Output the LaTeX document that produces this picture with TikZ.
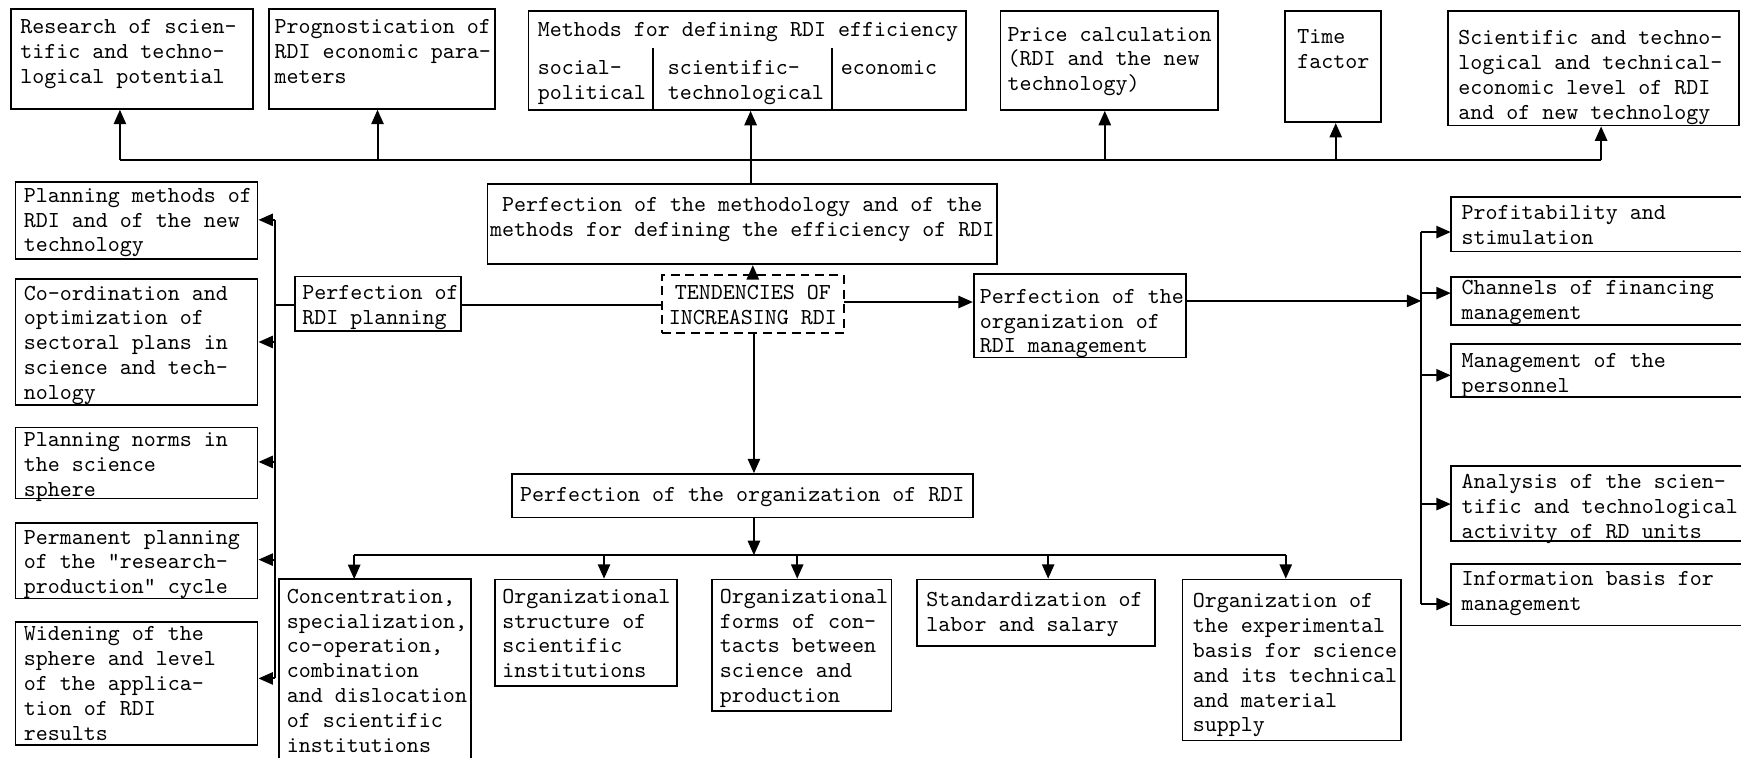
\documentclass[tikz,border=0pt]{standalone}
\usetikzlibrary{arrows.meta,fit,calc}
\newcommand\tyfont{\fontsize{10.3}{11.2}\selectfont\ttfamily}
\begin{document}
\begin{tikzpicture}[x=0.5pt,y=-0.5pt,
  box/.style={draw, line width=0.8pt, inner sep=0pt},
  hid/.style={inner sep=0pt},
  dbox/.style={draw, line width=0.8pt, inner sep=0pt, dash pattern=on 4pt off 2.5pt},
  txt/.style={anchor=north west, inner sep=0pt, align=left, font=\tyfont, yshift=-1.5pt},
  ctxt/.style={inner sep=0pt, align=center, font=\tyfont},
  ln/.style={line width=0.9pt},
  arr/.style={line width=0.9pt, -{Triangle[length=6.5pt,width=5.5pt]}}]
\useasboundingbox (0,0) rectangle (1568,682);

% ---------- top row ----------
\node[box, fit={(10,8) (228,98)}] (B1) {};
\node[txt] (B1t) at (18,14) {Research of scien-\\tific and techno-\\logical potential};
\node[box, fit={(242,8) (446,98)}] (B2) {};
\node[txt] (B2t) at (247,14) {Prognostication of\\RDI economic para-\\meters};
\node[box, fit={(476,10) (870,99)}] (B3) {};
\node[txt] (B3t) at (484,17) {Methods for defining RDI efficiency};
\node[txt] (B3a) at (484,51) {social-\\political};
\node[txt] (B3b) at (601,51) {scientific-\\technological};
\node[txt] (B3c) at (757,51) {economic};
\coordinate (d1) at (588,43);
\coordinate (d2) at (749,43);
\draw[ln] (d1) -- (d1 |- B3.south);
\draw[ln] (d2) -- (d2 |- B3.south);
\node[box, fit={(901,10) (1097,99)}] (B4) {};
\node[txt] (B4t) at (907,21) {Price calculation\\(RDI and the new\\technology)};
\node[box, fit={(1157,10) (1244,110)}] (B5) {};
\node[txt] (B5t) at (1168,23) {Time\\factor};
\node[box, fit={(1304,10) (1566,113)}] (B6) {};
\node[txt] (B6t) at (1313,24) {Scientific and techno-\\logical and technical-\\economic level of RDI\\and of new technology};

% top bus
\coordinate (t1) at (108,144);
\coordinate (t2) at (340,144);
\coordinate (t3) at (676,144);
\coordinate (t4) at (995,144);
\coordinate (t5) at (1203,144);
\coordinate (t6) at (1442,144);
\draw[ln] (t1) -- (t6);
\draw[arr] (t1) -- (t1 |- B1.south);
\draw[arr] (t2) -- (t2 |- B2.south);
\draw[arr] (t4) -- (t4 |- B4.south);
\draw[arr] (t5) -- (t5 |- B5.south);
\draw[arr] (t6) -- (t6 |- B6.south);

% ---------- centre ----------
\node[box, fit={(439,166) (898,238)}] (M) {};
\node[ctxt] (Mt) at (668.5,198) {Perfection of the methodology and of the\\methods for defining the efficiency of RDI};
\draw[arr] (M.north -| t3) -- (t3 |- B3.south);

\node[dbox, fit={(596,248) (760,300)}] (T) {};
\node[ctxt] (Tt) at (678,275) {TENDENCIES OF\\INCREASING RDI};
\draw[arr] (T.north -| 678,0) -- (M.south -| 678,0);

\node[box, fit={(266,249) (415,298)}] (P) {};
\node[txt] (Pt) at (272,254) {Perfection of\\RDI planning};
\coordinate (pl) at (415,275);
\draw[ln] (pl) -- (pl -| T.west);

\node[box, fit={(877,247) (1068,322)}] (G) {};
\node[txt] (Gt) at (882,257) {Perfection of the\\organization of\\RDI management};
\coordinate (tr) at (760,272);
\draw[arr] (tr) -- (tr -| G.west);

\node[box, fit={(461,427) (876,466)}] (O) {};
\node[ctxt] (Ot) at (668.5,448) {Perfection of the organization of RDI};
\coordinate (td) at (679,300);
\draw[arr] (td) -- (td |- O.north);

% ---------- left ----------
\node[box, fit={(14,164) (232,233)}] (L1) {};
\node[txt] (L1t) at (21,166) {Planning methods of\\RDI and of the new\\technology};
\node[box, fit={(14,251) (232,365)}] (L2) {};
\node[txt] (L2t) at (21,254) {Co-ordination and\\optimization of\\sectoral plans in\\science and tech-\\nology};
\node[box, fit={(14,385) (232,449)}] (L3) {};
\node[txt] (L3t) at (21,386) {Planning norms in\\the science\\sphere};
\node[box, fit={(14,471) (232,539)}] (L4) {};
\node[txt] (L4t) at (21,474) {Permanent planning\\of the "research-\\production" cycle};
\node[box, fit={(14,560) (232,671)}] (L5) {};
\node[txt] (L5t) at (21,561) {Widening of the\\sphere and level\\of the applica-\\tion of RDI\\results};

\coordinate (lb1) at (248,198);
\coordinate (lb2) at (248,308);
\coordinate (lb3) at (248,416);
\coordinate (lb4) at (248,504);
\coordinate (lb5) at (248,611);
\coordinate (lbp) at (248,275);
\draw[ln] (lb1) -- (lb5);
\draw[ln] (P.west |- lbp) -- (lbp);
\draw[arr] (lb1) -- (lb1 -| L1.east);
\draw[arr] (lb2) -- (lb2 -| L2.east);
\draw[arr] (lb3) -- (lb3 -| L3.east);
\draw[arr] (lb4) -- (lb4 -| L4.east);
\draw[arr] (lb5) -- (lb5 -| L5.east);

% ---------- right ----------
\node[hid, fit={(1307,178) (1568,226)}] (R1) {};
\node[hid, fit={(1307,250) (1568,292)}] (R2) {};
\node[hid, fit={(1307,310) (1568,357)}] (R3) {};
\node[hid, fit={(1307,420) (1568,487)}] (R4) {};
\node[hid, fit={(1307,508) (1568,563)}] (R5) {};
\foreach \r in {R1,R2,R3,R4,R5}
  \draw[line width=0.8pt] (\r.north east) -- (\r.north west) -- (\r.south west) -- (\r.south east);
\node[txt] (R1t) at (1316,182) {Profitability and\\stimulation};
\node[txt] (R2t) at (1316,249) {Channels of financing\\management};
\node[txt] (R3t) at (1316,315) {Management of the\\personnel};
\node[txt] (R4t) at (1316,424) {Analysis of the scien-\\tific and technological\\activity of RD units};
\node[txt] (R5t) at (1316,511) {Information basis for\\management};

\coordinate (rb1) at (1280,209);
\coordinate (rb2) at (1280,264);
\coordinate (rb3) at (1280,338);
\coordinate (rb4) at (1280,454);
\coordinate (rb5) at (1280,544);
\coordinate (rbg) at (1280,271);
\draw[ln] (rb1) -- (rb5);
\draw[arr] (G.east |- rbg) -- (rbg);
\draw[arr] (rb1) -- (rb1 -| R1.west);
\draw[arr] (rb2) -- (rb2 -| R2.west);
\draw[arr] (rb3) -- (rb3 -| R3.west);
\draw[arr] (rb4) -- (rb4 -| R4.west);
\draw[arr] (rb5) -- (rb5 -| R5.west);

% ---------- bottom ----------
\node[hid, fit={(252,522) (424,684)}] (C1) {};
\draw[line width=0.8pt] (C1.south west) -- (C1.north west) -- (C1.north east) -- (C1.south east);
\node[txt] (C1t) at (258,527) {Concentration,\\specialization,\\co-operation,\\combination\\and dislocation\\of scientific\\institutions};
\node[box, fit={(446,522) (610,618)}] (C2) {};
\node[txt] (C2t) at (452,527) {Organizational\\structure of\\scientific\\institutions};
\node[box, fit={(641,522) (803,640)}] (C3) {};
\node[txt] (C3t) at (648,527) {Organizational\\forms of con-\\tacts between\\science and\\production};
\node[box, fit={(826,522) (1040,582)}] (C4) {};
\node[txt] (C4t) at (834,530) {Standardization of\\labor and salary};
\node[box, fit={(1065,522) (1262,667)}] (C5) {};
\node[txt] (C5t) at (1074,531) {Organization of\\the experimental\\basis for science\\and its technical\\and material\\supply};

\coordinate (bb0) at (679,500);
\coordinate (bb1) at (319,500);
\coordinate (bb2) at (544,500);
\coordinate (bb3) at (718,500);
\coordinate (bb4) at (944,500);
\coordinate (bb5) at (1158,500);
\draw[ln] (bb1) -- (bb5);
\draw[arr] (O.south -| bb0) -- (bb0);
\draw[arr] (bb1) -- (bb1 |- C1.north);
\draw[arr] (bb2) -- (bb2 |- C2.north);
\draw[arr] (bb3) -- (bb3 |- C3.north);
\draw[arr] (bb4) -- (bb4 |- C4.north);
\draw[arr] (bb5) -- (bb5 |- C5.north);
\end{tikzpicture}
\end{document}
